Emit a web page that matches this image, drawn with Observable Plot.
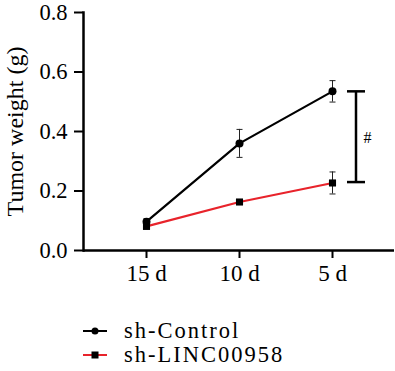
<!DOCTYPE html>
<html><head>
<meta charset="utf-8">
<script src="https://cdn.jsdelivr.net/npm/d3@7"></script>
<script src="https://cdn.jsdelivr.net/npm/@observablehq/plot@0.6"></script>
<style>
body{margin:0;background:#fff;font-family:"Liberation Serif","Times New Roman",serif;}
#legend{margin-top:24px;}
.row{display:flex;align-items:center;height:24px;margin-left:83px;font-size:22.5px;letter-spacing:2px;}
.row svg{margin-right:17px;}
</style>
</head><body>
<div id="chart"></div>
<div id="legend"></div>
<script>
const days = ["15 d", "10 d", "5 d"];
const seriesNames = ["sh-Control", "sh-LINC00958"];
const controlMean = [0.097, 0.36, 0.535];
const controlErr = [0.01, 0.047, 0.036];
const lincMean = [0.081, 0.163, 0.227];
const lincErr = [0.008, 0.008, 0.037];
const yTicks = [0, 0.2, 0.4, 0.6, 0.8];
const bracketLow = 0.23, bracketHigh = 0.535, bracketLabel = "#";

const RED = "#e8232b";
const ctrl = days.map((d, i) => ({day: d, mean: controlMean[i], err: controlErr[i]}));
const linc = days.map((d, i) => ({day: d, mean: lincMean[i], err: lincErr[i]}));
const all = [...linc, ...ctrl];
const bracket = [{day: days[2], lo: bracketLow, hi: bracketHigh}];

// horizontal bar symbol (for error-bar caps); half-width = r
const hbar = {draw(ctx, size) { const h = Math.sqrt(size / Math.PI); ctx.moveTo(-h, 0); ctx.lineTo(h, 0); }};

const chart = Plot.plot({
  width: 395, height: 295,
  marginLeft: 83, marginRight: 1, marginTop: 12, marginBottom: 45,
  style: {fontFamily: "'Liberation Serif', 'Times New Roman', serif", fontSize: "22px", background: "white", color: "black", overflow: "visible"},
  x: {domain: days, range: [146, 332], padding: 0, label: null},
  y: {domain: [0, 0.8], label: null},
  marks: [
    Plot.axisY({ticks: yTicks, tickSize: 9, tickPadding: 7, tickFormat: d3.format(".1f"), strokeWidth: 2, fontSize: 22.5, label: null}),
    Plot.axisX({tickSize: 8, tickPadding: 6, strokeWidth: 2, fontSize: 23, label: null, style: "letter-spacing:0.5px"}),
    Plot.ruleY([0], {strokeWidth: 2.5}),
    Plot.frame({anchor: "left", strokeWidth: 2.5}),
    Plot.text(["Tumor weight (g)"], {frameAnchor: "left", textAnchor: "middle", rotate: -90, dx: -68, fontSize: 24, text: d => d, style: "letter-spacing:1.8px"}),
    Plot.line(linc, {x: "day", y: "mean", stroke: RED, strokeWidth: 2.2}),
    Plot.line(ctrl, {x: "day", y: "mean", stroke: "black", strokeWidth: 2.2}),
    Plot.ruleX(all, {x: "day", y1: d => d.mean - d.err, y2: d => d.mean + d.err, stroke: "#222", strokeWidth: 1}),
    Plot.dot(all, {x: "day", y: d => d.mean + d.err, symbol: hbar, r: 3, stroke: "#222", strokeWidth: 1}),
    Plot.dot(all, {x: "day", y: d => d.mean - d.err, symbol: hbar, r: 3, stroke: "#222", strokeWidth: 1}),
    Plot.dot(linc, {x: "day", y: "mean", symbol: "square", r: 4, fill: "black"}),
    Plot.dot(ctrl, {x: "day", y: "mean", symbol: "circle", r: 4, fill: "black"}),
    Plot.ruleX(bracket, {x: "day", dx: 23.5, y1: "lo", y2: "hi", stroke: "black", strokeWidth: 2.5}),
    Plot.dot(bracket, {x: "day", y: "lo", dx: 23.5, symbol: hbar, r: 9, stroke: "black", strokeWidth: 2.5}),
    Plot.dot(bracket, {x: "day", y: "hi", dx: 23.5, symbol: hbar, r: 9, stroke: "black", strokeWidth: 2.5}),
    Plot.text(bracket, {x: "day", y: d => (d.lo + d.hi) / 2 - 0.005, dx: 35, text: () => bracketLabel, fontSize: 16})
  ]
});
document.getElementById("chart").appendChild(chart);

const legend = document.getElementById("legend");
const swatches = [
  {name: seriesNames[0], color: "black", marker: "circle"},
  {name: seriesNames[1], color: RED, marker: "square"}
];
for (const s of swatches) {
  const row = document.createElement("div");
  row.className = "row";
  const m = s.marker === "circle"
    ? '<circle cx="12" cy="6" r="3.5" fill="black"/>'
    : '<rect x="8.5" y="2.5" width="7" height="7" fill="black"/>';
  row.innerHTML = `<svg width="24" height="12"><line x1="0" x2="24" y1="6" y2="6" stroke="${s.color}" stroke-width="2"/>${m}</svg><span>${s.name}</span>`;
  legend.appendChild(row);
}
</script>
</body></html>
